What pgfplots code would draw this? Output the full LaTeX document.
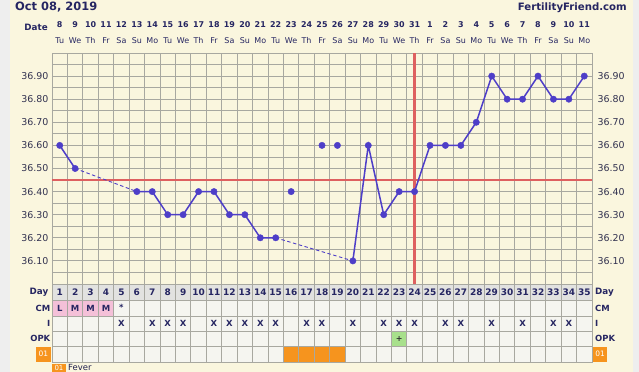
\documentclass[border=0pt]{standalone}
\usepackage{pgfplots}
\pgfplotsset{compat=1.18}
\usepackage{fontspec}
\setmainfont{DejaVu Sans}
\definecolor{cream}{RGB}{250,246,222}
\definecolor{outer}{RGB}{238,238,238}
\definecolor{gridc}{RGB}{168,168,160}
\definecolor{navy}{RGB}{38,38,98}
\definecolor{linec}{RGB}{78,62,200}
\definecolor{redc}{RGB}{222,96,96}
\definecolor{cellc}{RGB}{245,245,240}
\definecolor{dayrow}{RGB}{226,226,224}
\definecolor{pinkc}{RGB}{244,192,216}
\definecolor{orangec}{RGB}{246,148,30}
\definecolor{greenc}{RGB}{168,224,140}
\definecolor{tickc}{RGB}{50,50,80}
\begin{document}
\begin{tikzpicture}
\path[use as bounding box] (0,0) rectangle (639bp,372bp);
\fill[outer] (0,0) rectangle (639bp,372bp);
\fill[cream] (10bp,0) rectangle (633bp,372bp);
\clip (0,0) rectangle (639bp,372bp);
% ---------------- main temperature chart
\begin{axis}[
  at={(52bp,88bp)}, anchor=south west,
  scale only axis, width=540bp, height=231bp,
  xmin=0.5, xmax=35.5, ymin=36, ymax=37,
  axis line style={draw=gridc, line width=0.8bp},
  major tick length=0pt, minor tick length=0pt,
  xtick={1,...,35},
  xticklabels={{\textbf{8}\\Tu},{\textbf{9}\\We},{\textbf{10}\\Th},{\textbf{11}\\Fr},{\textbf{12}\\Sa},{\textbf{13}\\Su},{\textbf{14}\\Mo},{\textbf{15}\\Tu},{\textbf{16}\\We},{\textbf{17}\\Th},{\textbf{18}\\Fr},{\textbf{19}\\Sa},{\textbf{20}\\Su},{\textbf{21}\\Mo},{\textbf{22}\\Tu},{\textbf{23}\\We},{\textbf{24}\\Th},{\textbf{25}\\Fr},{\textbf{26}\\Sa},{\textbf{27}\\Su},{\textbf{28}\\Mo},{\textbf{29}\\Tu},{\textbf{30}\\We},{\textbf{31}\\Th},{\textbf{1}\\Fr},{\textbf{2}\\Sa},{\textbf{3}\\Su},{\textbf{4}\\Mo},{\textbf{5}\\Tu},{\textbf{6}\\We},{\textbf{7}\\Th},{\textbf{8}\\Fr},{\textbf{9}\\Sa},{\textbf{10}\\Su},{\textbf{11}\\Mo}},
  xticklabel pos=right,
  xticklabel style={align=center, font=\fontsize{8}{16.4}\selectfont, text=navy, inner sep=0pt, anchor=south, yshift=9bp},
  minor xtick={0.5,1.5,...,35.5},
  xminorgrids=true,
  ytick={36.1,36.2,36.3,36.4,36.5,36.6,36.7,36.8,36.9},
  minor ytick={36.05,36.15,36.25,36.35,36.45,36.55,36.65,36.75,36.85,36.95},
  ymajorgrids=true, yminorgrids=true,
  grid style={draw=gridc, line width=0.8bp},
  minor grid style={draw=gridc, line width=0.8bp},
  yticklabel pos=left,
  /pgf/number format/assume math mode=true,
  yticklabel style={font=\fontsize{9.5}{10}\selectfont, text=tickc, /pgf/number format/fixed, /pgf/number format/fixed zerofill, /pgf/number format/precision=2},
]
\addplot[redc, line width=2.8bp] coordinates {(0.5,36.45) (35.5,36.45)};
\addplot[redc, line width=2.8bp] coordinates {(24,36) (24,37)};
\addplot[linec, line width=0.9bp, dash pattern=on 3.5bp off 2.5bp] coordinates {(2,36.5) (6,36.4)};
\addplot[linec, line width=0.9bp, dash pattern=on 3.5bp off 2.5bp] coordinates {(15,36.2) (20,36.1)};
\addplot[linec, line width=1.5bp, mark=*, mark size=3.2bp, mark options={fill=linec, draw=linec, line width=0.4bp}, unbounded coords=jump] coordinates {
 (1,36.6) (2,36.5) (3,nan)
 (6,36.4) (7,36.4) (8,36.3) (9,36.3) (10,36.4) (11,36.4) (12,36.3) (13,36.3) (14,36.2) (15,36.2) (16,nan)
 (20,36.1) (21,36.6) (22,36.3) (23,36.4) (24,36.4) (25,36.6) (26,36.6) (27,36.6) (28,36.7) (29,36.9)
 (30,36.8) (31,36.8) (32,36.9) (33,36.8) (34,36.8) (35,36.9)};
\addplot[linec, only marks, mark=*, mark size=3.2bp, mark options={fill=linec, draw=linec, line width=0.4bp}] coordinates {(16,36.4) (18,36.6) (19,36.6)};
\end{axis}
% ---------------- right-hand temperature labels
\begin{axis}[
  at={(52bp,88bp)}, anchor=south west,
  scale only axis, width=540bp, height=231bp,
  xmin=0.5, xmax=35.5, ymin=36, ymax=37,
  axis line style={draw=none},
  major tick length=0pt,
  xtick=\empty,
  ytick={36.1,36.2,36.3,36.4,36.5,36.6,36.7,36.8,36.9},
  yticklabel pos=right,
  /pgf/number format/assume math mode=true,
  yticklabel style={font=\fontsize{9.5}{10}\selectfont, text=tickc, xshift=2bp, /pgf/number format/fixed, /pgf/number format/fixed zerofill, /pgf/number format/precision=2},
]
\addplot[draw=none] coordinates {(1,36.5)};
\end{axis}
% ---------------- table below
\begin{axis}[
  at={(52bp,10bp)}, anchor=south west,
  scale only axis, width=540bp, height=78bp,
  xmin=0.5, xmax=35.5, ymin=0, ymax=78,
  axis on top,
  axis background/.style={fill=cellc},
  axis line style={draw=gridc, line width=0.8bp},
  major tick length=0pt,
  xtick={1.5,2.5,...,34.5}, xticklabels={},
  ytick={15.5,31,46,61.5}, yticklabels={},
  xmajorgrids=true, ymajorgrids=true,
  grid style={draw=gridc, line width=0.8bp},
  clip=false,
]
\addplot[fill=dayrow, draw=none] coordinates {(0.5,61.5) (35.5,61.5) (35.5,78) (0.5,78)} -- cycle;
\addplot[fill=pinkc, draw=none] coordinates {(0.5,46) (4.5,46) (4.5,61.5) (0.5,61.5)} -- cycle;
\addplot[fill=greenc, draw=none] coordinates {(22.5,15.5) (23.5,15.5) (23.5,31) (22.5,31)} -- cycle;
\addplot[fill=orangec, draw=none] coordinates {(15.5,0) (19.5,0) (19.5,15.5) (15.5,15.5)} -- cycle;
% day numbers
\addplot[draw=none, point meta=explicit symbolic, nodes near coords, nodes near coords align=center,
  every node near coord/.append style={font=\bfseries\fontsize{9}{10}\selectfont, text=navy, inner sep=0pt}] coordinates {
 (1,69.75)[1] (2,69.75)[2] (3,69.75)[3] (4,69.75)[4] (5,69.75)[5] (6,69.75)[6] (7,69.75)[7] (8,69.75)[8] (9,69.75)[9]
 (10,69.75)[10] (11,69.75)[11] (12,69.75)[12] (13,69.75)[13] (14,69.75)[14] (15,69.75)[15] (16,69.75)[16] (17,69.75)[17]
 (18,69.75)[18] (19,69.75)[19] (20,69.75)[20] (21,69.75)[21] (22,69.75)[22] (23,69.75)[23] (24,69.75)[24] (25,69.75)[25]
 (26,69.75)[26] (27,69.75)[27] (28,69.75)[28] (29,69.75)[29] (30,69.75)[30] (31,69.75)[31] (32,69.75)[32] (33,69.75)[33]
 (34,69.75)[34] (35,69.75)[35]};
% CM row
\addplot[draw=none, point meta=explicit symbolic, nodes near coords, nodes near coords align=center,
  every node near coord/.append style={font=\bfseries\fontsize{8.5}{10}\selectfont, text=navy, inner sep=0pt}] coordinates {
 (1,53.75)[L] (2,53.75)[M] (3,53.75)[M] (4,53.75)[M] (5,55)[*]};
% I row
\addplot[draw=none, point meta=explicit symbolic, nodes near coords, nodes near coords align=center,
  every node near coord/.append style={font=\bfseries\fontsize{8.5}{10}\selectfont, text=navy, inner sep=0pt}] coordinates {
 (5,38.5)[X] (7,38.5)[X] (8,38.5)[X] (9,38.5)[X] (11,38.5)[X] (12,38.5)[X] (13,38.5)[X] (14,38.5)[X] (15,38.5)[X]
 (17,38.5)[X] (18,38.5)[X] (20,38.5)[X] (22,38.5)[X] (23,38.5)[X] (24,38.5)[X] (26,38.5)[X] (27,38.5)[X]
 (29,38.5)[X] (31,38.5)[X] (33,38.5)[X] (34,38.5)[X]};
% OPK row
\addplot[draw=none, point meta=explicit symbolic, nodes near coords, nodes near coords align=center,
  every node near coord/.append style={font=\bfseries\fontsize{8}{10}\selectfont, text=black!80, inner sep=0pt}] coordinates {
 (23,23.25)[+]};
% row labels
\node[anchor=east, font=\bfseries\fontsize{8.8}{10}\selectfont, text=navy, inner sep=0pt] at ([xshift=-3.5bp]axis cs:0.5,69.75) {Day};
\node[anchor=east, font=\bfseries\fontsize{8.5}{10}\selectfont, text=navy, inner sep=0pt] at ([xshift=-1.5bp]axis cs:0.5,53.75) {CM};
\node[anchor=east, font=\bfseries\fontsize{8.5}{10}\selectfont, text=navy, inner sep=0pt] at ([xshift=-1.5bp]axis cs:0.5,38.5) {I};
\node[anchor=east, font=\bfseries\fontsize{8.5}{10}\selectfont, text=navy, inner sep=0pt] at ([xshift=-1.5bp]axis cs:0.5,23.25) {OPK};
\node[anchor=east, fill=orangec, text=white, font=\fontsize{7.5}{8}\selectfont, minimum width=15bp, minimum height=15bp, inner sep=0pt] at ([xshift=-1bp]axis cs:0.5,7.75) {01};
\node[anchor=west, font=\bfseries\fontsize{8.8}{10}\selectfont, text=navy, inner sep=0pt] at ([xshift=3bp]axis cs:35.5,69.75) {Day};
\node[anchor=west, font=\bfseries\fontsize{8.5}{10}\selectfont, text=navy, inner sep=0pt] at ([xshift=3bp]axis cs:35.5,53.75) {CM};
\node[anchor=west, font=\bfseries\fontsize{8.5}{10}\selectfont, text=navy, inner sep=0pt] at ([xshift=3bp]axis cs:35.5,38.5) {I};
\node[anchor=west, font=\bfseries\fontsize{8.5}{10}\selectfont, text=navy, inner sep=0pt] at ([xshift=3bp]axis cs:35.5,23.25) {OPK};
\node[anchor=west, fill=orangec, text=white, font=\fontsize{7.5}{8}\selectfont, minimum width=14bp, minimum height=15bp, inner sep=0pt] at ([xshift=1bp]axis cs:35.5,7.75) {01};
\end{axis}
% ---------------- header texts
\node[anchor=base west, font=\bfseries\fontsize{11.5}{12}\selectfont, text=navy, inner sep=0pt] at (15bp,361bp) {Oct 08, 2019};
\node[anchor=base east, font=\bfseries\fontsize{10.2}{12}\selectfont, text=navy, inner sep=0pt] at (627bp,361.3bp) {FertilityFriend.com};
\node[anchor=base east, font=\bfseries\fontsize{8.8}{10}\selectfont, text=navy, inner sep=0pt] at (48bp,341.3bp) {Date};
% ---------------- legend below
\fill[orangec] (52bp,-10bp) rectangle (66bp,8bp);
\node[anchor=base, text=white, font=\fontsize{7}{8}\selectfont, inner sep=0pt] at (59bp,1.5bp) {01};
\node[anchor=base west, text=navy!80!black, font=\fontsize{8.5}{10}\selectfont, inner sep=0pt] at (68bp,1.5bp) {Fever};
\end{tikzpicture}
\end{document}
